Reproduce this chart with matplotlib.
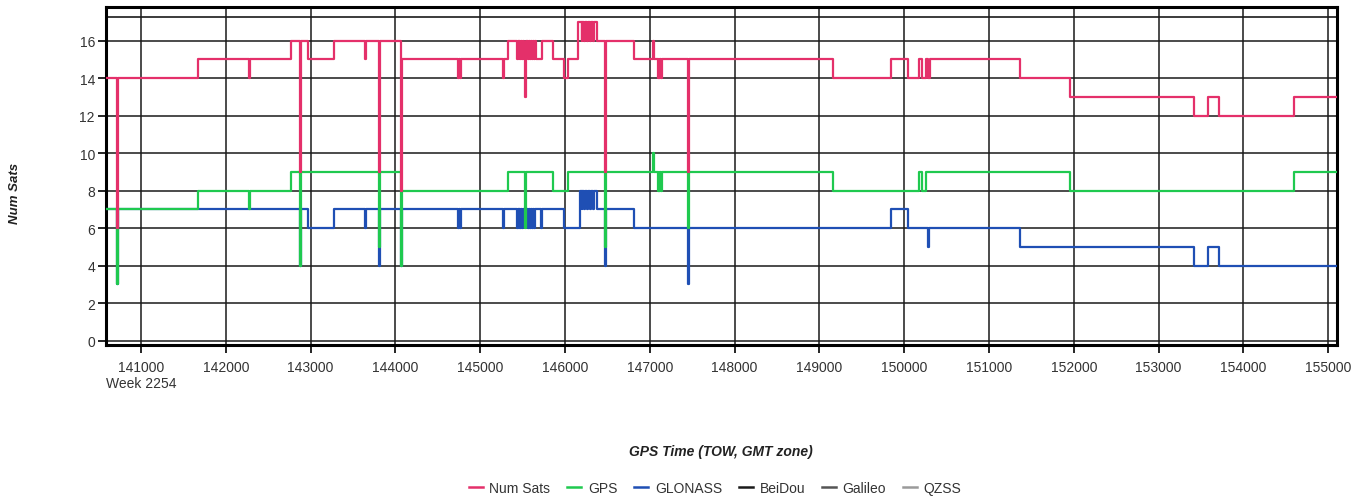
import matplotlib.pyplot as plt

plt.rcParams['font.family'] = ['Liberation Sans', 'DejaVu Sans']

# GPS time of week where the count changes, and the new count (step data)
sats_time = [140587, 140713, 140725, 141676, 142277, 142290, 142769, 142875, 142887,
             142966, 143280, 143642, 143654, 143807, 143819, 144066, 144078,
             144742, 144752, 144762, 144772, 145273, 145283, 145332,
             145430, 145440, 145452, 145462, 145475, 145485, 145497, 145507, 145517,
             145528, 145540,
             145567, 145577, 145589, 145599, 145611, 145621, 145633, 145643, 145655,
             145713, 145725, 145862, 145985, 146039, 146157,
             146195, 146205, 146228, 146238, 146262, 146272, 146300, 146310, 146335, 146345,
             146372, 146474, 146486, 146817, 147034, 147046,
             147093, 147103, 147113, 147123, 147135, 147147, 147160,
             147454, 147466, 149157, 149841, 150049, 150179, 150215, 150257, 150285,
             150304, 151366, 151955, 153418, 153586, 153712, 154597]
sats_vals = [14, 6, 14, 15, 14, 15, 16, 9, 16,
             15, 16, 15, 16, 9, 16, 8, 15,
             14, 15, 14, 15, 14, 15, 16,
             15, 16, 15, 16, 15, 16, 15, 16, 15,
             13, 16,
             15, 16, 15, 16, 15, 16, 15, 16, 15,
             15, 16, 15, 14, 15, 17,
             16, 17, 16, 17, 16, 17, 16, 17, 16, 17,
             16, 9, 16, 15, 16, 15,
             14, 15, 14, 15, 14, 15, 15,
             9, 15, 14, 15, 14, 15, 14, 15, 14,
             15, 14, 13, 12, 13, 12, 13]

gps_time = [140587, 140713, 140725, 141676, 142277, 142290, 142769, 142875, 142887,
            143807, 143819, 144066, 144078, 145332, 145528, 145540, 145862, 146039,
            146474, 146486, 147034, 147046,
            147093, 147103, 147113, 147123, 147135, 147147, 147160,
            147454, 147466, 149157, 150179, 150215, 150257, 151955, 154597]
gps_vals = [7, 3, 7, 8, 7, 8, 9, 4, 9,
            5, 9, 4, 8, 9, 6, 9, 8, 9,
            5, 9, 10, 9,
            8, 9, 8, 9, 8, 9, 9,
            6, 9, 8, 9, 8, 9, 8, 9]

glo_time = [140587, 140713, 140725, 142875, 142887, 142966, 143280, 143642, 143654,
            143807, 143819, 144066, 144078, 144742, 144752, 144762, 144772, 145273, 145283,
            145430, 145440, 145452, 145462, 145475, 145485, 145497, 145507, 145517,
            145567, 145577, 145589, 145599, 145611, 145621, 145633, 145643, 145655,
            145713, 145725, 145985, 146177,
            146195, 146205, 146228, 146238, 146262, 146272, 146300, 146310, 146335, 146345,
            146372, 146474, 146486, 146817, 147454, 147466, 149841, 150049, 150285, 150297,
            151366, 153418, 153586, 153712]
glo_vals = [7, 3, 7, 4, 7, 6, 7, 6, 7,
            4, 7, 4, 7, 6, 7, 6, 7, 6, 7,
            6, 7, 6, 7, 6, 7, 6, 7, 7,
            6, 7, 6, 7, 6, 7, 6, 7, 7,
            6, 7, 6, 8,
            7, 8, 7, 8, 7, 8, 7, 8, 7, 8,
            7, 4, 7, 6, 3, 6, 7, 6, 5, 6,
            5, 4, 5, 4]

t_end = 155104
x_ticks = list(range(141000, 155001, 1000))
y_ticks = list(range(0, 17, 2))
legend_names = ['Num Sats', 'GPS', 'GLONASS', 'BeiDou', 'Galileo', 'QZSS']
legend_colors = ['#e4306a', '#1fc94f', '#1f4fb4', '#1a1a1a', '#555555', '#9a9a9a']

fig = plt.figure(figsize=(13.69, 5.02), dpi=100)
ax = fig.add_axes([106 / 1369, 1 - 346 / 502, (1337 - 106) / 1369, (346 - 8) / 502])


def extend(t, v):
    return t + [t_end], v + [v[-1]]


t, v = extend(glo_time, glo_vals)
ax.step(t, v, where='post', color=legend_colors[2], lw=1.6, zorder=3)
t, v = extend(gps_time, gps_vals)
ax.step(t, v, where='post', color=legend_colors[1], lw=1.6, zorder=4)
t, v = extend(sats_time, sats_vals)
ax.step(t, v, where='post', color=legend_colors[0], lw=1.6, zorder=5)

ax.set_xlim(140587, t_end)
ax.set_ylim(-0.23, 17.8)
ax.set_xticks(x_ticks)
ax.set_xticklabels([str(x) + ('\nWeek 2254' if x == 141000 else '') for x in x_ticks])
ax.set_yticks(y_ticks)
ax.grid(True, color='#1a1a1a', lw=1.1, zorder=1)
ax.axhline(17.27, color='#1a1a1a', lw=1.2, zorder=1)
for s in ax.spines.values():
    s.set_linewidth(2.2)
ax.tick_params(axis='x', direction='out', length=6, width=1.2, labelsize=10,
               pad=5, labelcolor='#333333')
ax.tick_params(axis='y', direction='out', length=6, width=1.2, labelsize=10,
               pad=2, labelcolor='#333333')

fig.text(15 / 1369, 1 - 193 / 502, 'Num Sats', rotation=90, ha='center', va='center',
         fontsize=9.5, fontweight='bold', fontstyle='italic', color='#222222')
fig.text(721 / 1369, 1 - 452 / 502, 'GPS Time (TOW, GMT zone)', ha='center', va='center',
         fontsize=10, fontweight='bold', fontstyle='italic', color='#222222')

handles = [plt.Line2D([], [], color=c, lw=1.8) for c in legend_colors]
fig.legend(handles, legend_names, loc='center', bbox_to_anchor=(715 / 1369, 1 - 489 / 502),
           ncol=6, frameon=False, fontsize=10, handlelength=1.0, handletextpad=0.5,
           columnspacing=1.2, labelcolor='#333333')

plt.savefig('out.png', dpi=100)
